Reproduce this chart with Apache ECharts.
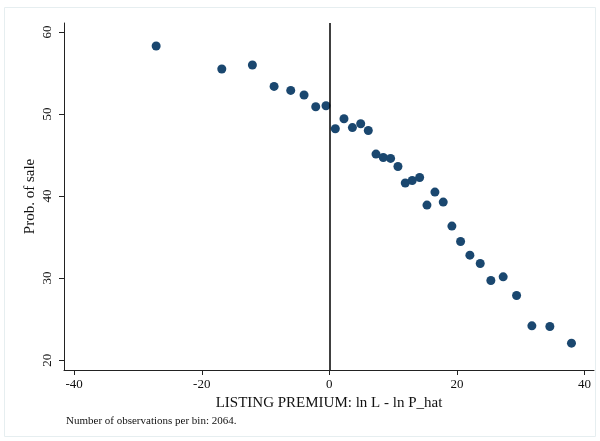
<!DOCTYPE html>
<html>
<head>
<meta charset="utf-8">
<script src="https://cdn.jsdelivr.net/npm/echarts@6/dist/echarts.min.js"></script>
<style>
  html, body { margin: 0; padding: 0; background: #fff; }
  #chart { width: 600px; height: 441px; }
</style>
</head>
<body>
<div id="chart"></div>
<script>
// binned listing premium (x) vs probability of sale (y)
const premium = [
  -27.15, -16.86, -12.06, -8.66, -6.05, -3.96, -2.13, -0.52, 0.94, 2.30, 3.62,
  4.92, 6.11, 7.32, 8.46, 9.61, 10.76, 11.91, 13.00, 14.16, 15.31, 16.56, 17.86,
  19.22, 20.58, 22.04, 23.66, 25.33, 27.26, 29.36, 31.76, 34.58, 37.97
];
const probSale = [
  58.29, 55.49, 55.98, 53.37, 52.88, 52.32, 50.89, 51.01, 48.21, 49.43, 48.35,
  48.82, 48.00, 45.12, 44.71, 44.59, 43.61, 41.59, 41.90, 42.27, 38.90, 40.49, 39.27,
  36.34, 34.46, 32.80, 31.78, 29.71, 30.16, 27.88, 24.18, 24.10, 22.07
];
const xTicks = [-40, -20, 0, 20, 40];
const yTicks = [20, 30, 40, 50, 60];

const font = "'Liberation Serif', 'DejaVu Serif', serif";
const chart = echarts.init(document.getElementById('chart'));

chart.setOption({
  backgroundColor: '#ffffff',
  animation: false,
  grid: { left: 64, right: 6, top: 23, bottom: 71 },
  graphic: [
    {
      type: 'rect',
      shape: { x: 4.5, y: 7.5, width: 591, height: 429 },
      style: { fill: 'none', stroke: '#e6eef0', lineWidth: 1 },
      silent: true
    },
    {
      type: 'text',
      left: 66,
      top: 416,
      style: {
        text: 'Number of observations per bin: 2064.',
        font: '11px ' + font,
        fill: '#111'
      }
    }
  ],
  xAxis: {
    type: 'value',
    min: -41.6,
    max: 41.5,
    name: 'LISTING PREMIUM: ln L - ln P_hat',
    nameLocation: 'middle',
    nameGap: 26,
    nameMoveOverlap: false,
    nameTextStyle: { fontFamily: font, fontSize: 15, color: '#111' },
    axisLine: { show: true, onZero: false, lineStyle: { color: '#222', width: 1 } },
    axisTick: { show: true, length: 5, customValues: xTicks, lineStyle: { color: '#222' } },
    axisLabel: { customValues: xTicks, fontFamily: font, fontSize: 13, color: '#111', margin: 8 },
    splitLine: { show: false }
  },
  yAxis: {
    type: 'value',
    min: 18.8,
    max: 61.1,
    name: 'Prob. of sale',
    nameLocation: 'middle',
    nameGap: 26,
    nameMoveOverlap: false,
    nameRotate: 90,
    nameTextStyle: { fontFamily: font, fontSize: 15, color: '#111' },
    axisLine: { show: true, onZero: false, lineStyle: { color: '#222', width: 1 } },
    axisTick: { show: true, length: 5, customValues: yTicks, lineStyle: { color: '#222' } },
    axisLabel: { customValues: yTicks, rotate: 90, fontFamily: font, fontSize: 13, color: '#111', margin: 10 },
    splitLine: { show: false }
  },
  series: [
    {
      type: 'scatter',
      data: premium.map((x, i) => [x, probSale[i]]),
      symbolSize: 9,
      itemStyle: { color: '#1a476f', opacity: 1 },
      markLine: {
        silent: true,
        symbol: 'none',
        label: { show: false },
        lineStyle: { color: '#000', width: 1.5, type: 'solid' },
        data: [{ xAxis: 0 }]
      }
    }
  ]
});
</script>
</body>
</html>
